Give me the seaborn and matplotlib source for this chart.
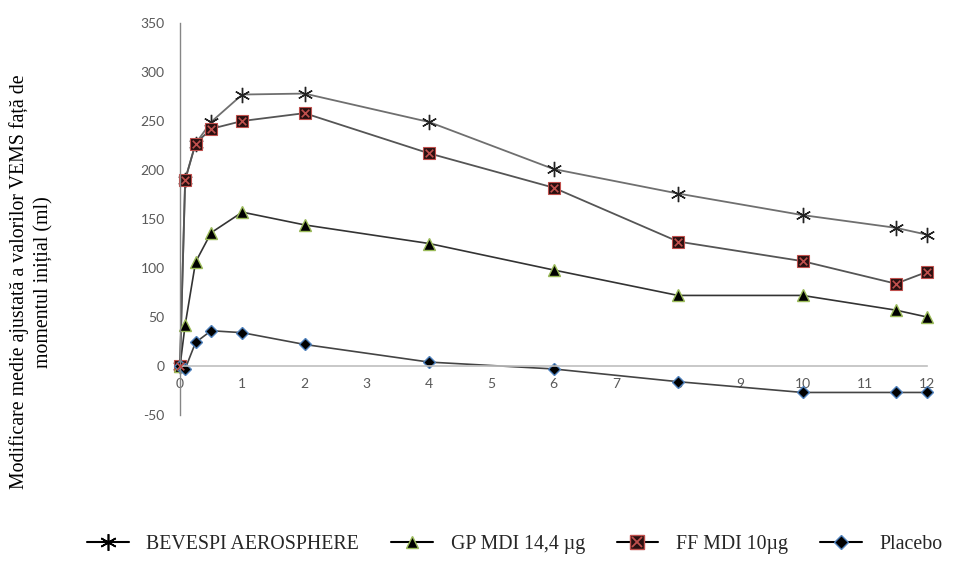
import matplotlib
matplotlib.use("Agg")
import matplotlib.pyplot as plt
from matplotlib.lines import Line2D
from matplotlib.legend_handler import HandlerTuple
import seaborn as sns
import pandas as pd

hours = [0, 0.083, 0.25, 0.5, 1, 2, 4, 6, 8, 10, 11.5, 12]
bevespi = [0, 190, 227, 249, 277, 278, 249, 201, 176, 154, 141, 134]
ff_mdi = [0, 190, 227, 242, 250, 258, 217, 182, 127, 107, 84, 96]
gp_mdi = [0, 42, 106, 136, 157, 144, 125, 98, 72, 72, 57, 50]
placebo = [0, -3, 24, 36, 34, 22, 4, -3, -16, -27, -27, -27]

series_names = ["BEVESPI AEROSPHERE", "GP MDI 14,4 µg", "FF MDI 10µg", "Placebo"]
y_ticks = [-50, 0, 50, 100, 150, 200, 250, 300, 350]
x_ticks = list(range(0, 13))
y_label = "Modificare medie ajustată a valorilor VEMS față de\nmomentul inițial (ml)"

sns.set_theme(style="white")
plt.rcParams["font.family"] = ["Lato", "DejaVu Sans"]

fig = plt.figure(figsize=(9.55, 5.73), dpi=100)
ax = fig.add_axes([180 / 955, (573 - 415) / 573, (927 - 180) / 955, (415 - 23) / 573])

df = pd.DataFrame({"h": hours, "b": bevespi, "f": ff_mdi, "g": gp_mdi, "p": placebo})

star = (6, 2, 0)
sns.lineplot(data=df, x="h", y="b", ax=ax, color="#6f6f6f", lw=1.3, clip_on=False,
             marker=star, markersize=11, markeredgecolor="#222222", markeredgewidth=1.0)
sns.lineplot(data=df, x="h", y="f", ax=ax, color="#555555", lw=1.3, clip_on=False,
             marker="s", markersize=8, markerfacecolor="#2a1010", markeredgecolor="#c0504d",
             markeredgewidth=0.8)
sns.scatterplot(data=df, x="h", y="f", ax=ax, marker="x", s=30, color="#c0504d",
                linewidth=1.2, zorder=5, clip_on=False)
sns.lineplot(data=df, x="h", y="g", ax=ax, color="#333333", lw=1.2, clip_on=False,
             marker="^", markersize=9, markerfacecolor="#000000", markeredgecolor="#9bbb59",
             markeredgewidth=1.0)
sns.lineplot(data=df, x="h", y="p", ax=ax, color="#444444", lw=1.2, clip_on=False,
             marker="D", markersize=6.5, markerfacecolor="#000000", markeredgecolor="#4f81bd",
             markeredgewidth=1.0)

ax.set_xlim(0, 12)
ax.set_ylim(-50, 350)
ax.set_xticks(x_ticks)
ax.set_yticks(y_ticks)
ax.set_xticklabels([str(t) for t in x_ticks])
ax.set_yticklabels([str(t) for t in y_ticks])
ax.set_xlabel("")
ax.set_ylabel("")
ax.spines["top"].set_visible(False)
ax.spines["right"].set_visible(False)
ax.spines["bottom"].set_position(("data", 0))
ax.spines["bottom"].set_color("#bfbfbf")
ax.spines["bottom"].set_linewidth(1.2)
ax.spines["left"].set_color("#868686")
ax.spines["left"].set_linewidth(1.0)
ax.tick_params(axis="both", length=0, labelsize=10, colors="#595959")
ax.tick_params(axis="x", pad=9)
ax.tick_params(axis="y", pad=11)
ax.patch.set_alpha(0)

fig.text(0.033, 0.508, y_label, rotation=90, ha="center", va="center",
         family=["Liberation Serif"], fontsize=14.3, color="#000000", linespacing=1.4,
         multialignment="center")

h_b = Line2D([], [], color="black", lw=1.5, marker=star, markersize=12,
             markeredgecolor="black", markeredgewidth=1.2)
h_g = Line2D([], [], color="black", lw=1.5, marker="^", markersize=9,
             markerfacecolor="#000000", markeredgecolor="#9bbb59")
h_f1 = Line2D([], [], color="black", lw=1.5, marker="s", markersize=10,
              markerfacecolor="#2a1010", markeredgecolor="#c0504d")
h_f2 = Line2D([], [], ls="none", marker="x", markersize=7, markeredgecolor="#c0504d",
              markeredgewidth=1.3)
h_p = Line2D([], [], color="black", lw=1.5, marker="D", markersize=7,
             markerfacecolor="#000000", markeredgecolor="#4f81bd")

fig.legend([h_b, h_g, (h_f1, h_f2), h_p], series_names,
           handler_map={tuple: HandlerTuple(ndivide=1)},
           loc="center", bbox_to_anchor=(0.539, 0.049), ncol=4, frameon=False,
           prop={"family": "Liberation Serif", "size": 14.3},
           handlelength=2.1, columnspacing=1.6, handletextpad=0.9)

fig.savefig("out.png", dpi=100)
